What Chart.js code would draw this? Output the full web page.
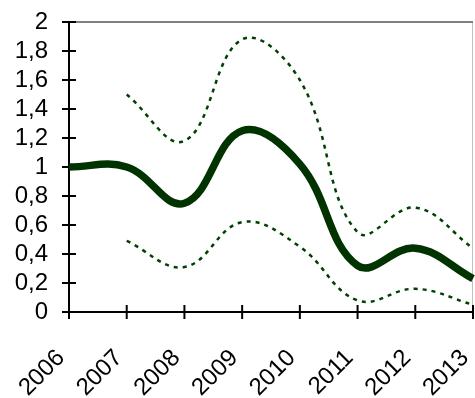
<!DOCTYPE html>
<html>
<head>
<meta charset="utf-8">
<script src="https://cdn.jsdelivr.net/npm/chart.js@4.4.1/dist/chart.umd.min.js"></script>
<style>
    body { margin: 0; background: #fff; }
    #chart { display: block; }
</style>
</head>
<body>
<canvas id="chart" width="475" height="398"></canvas>
<script>
const years = ['2006', '2007', '2008', '2009', '2010', '2011', '2012', '2013'];
const mainValues = [1.0, 1.0, 0.75, 1.25, 1.02, 0.32, 0.44, 0.23];
const upperValues = [null, 1.5, 1.18, 1.88, 1.6, 0.55, 0.72, 0.44];
const lowerValues = [null, 0.49, 0.31, 0.62, 0.45, 0.08, 0.16, 0.05];
const yTicks = [0, 0.2, 0.4, 0.6, 0.8, 1, 1.2, 1.4, 1.6, 1.8, 2];

const yFont = { family: '"Liberation Sans", Arial, sans-serif', size: 24 };
const xFont = { family: '"Liberation Sans", Arial, sans-serif', size: 24 };

// axes with ticks crossing the line, grey frame top and right
const axesPlugin = {
    id: 'axes',
    beforeDatasetsDraw(chart) {
        const ctx = chart.ctx;
        const area = chart.chartArea;
        const xs = chart.scales.x;
        const ys = chart.scales.y;
        ctx.save();
        ctx.strokeStyle = '#c0c0c0';
        ctx.lineWidth = 1;
        ctx.beginPath();
        ctx.moveTo(area.right - 0.5, area.top);
        ctx.lineTo(area.right - 0.5, area.bottom);
        ctx.stroke();
        ctx.strokeStyle = '#808080';
        ctx.lineWidth = 2;
        ctx.beginPath();
        ctx.moveTo(area.left, area.top);
        ctx.lineTo(area.right, area.top);
        ctx.stroke();

        ctx.strokeStyle = '#000';
        ctx.lineWidth = 2;
        ctx.beginPath();
        ctx.moveTo(area.left, area.top);
        ctx.lineTo(area.left, area.bottom);
        ctx.lineTo(area.right, area.bottom);
        yTicks.forEach(v => {
            const y = ys.getPixelForValue(v);
            ctx.moveTo(area.left - 7, y);
            ctx.lineTo(area.left + 7, y);
        });
        years.forEach((label, i) => {
            const x = xs.getPixelForValue(i);
            ctx.moveTo(x, area.bottom - 7);
            ctx.lineTo(x, area.bottom + 7);
        });
        ctx.stroke();
        ctx.restore();
    }
};

new Chart(document.getElementById('chart'), {
    type: 'line',
    data: {
        labels: years,
        datasets: [
            {
                data: upperValues,
                borderColor: '#004000',
                borderWidth: 2.5,
                borderDash: [4, 5],
                pointRadius: 0,
                tension: 0.4,
                fill: false
            },
            {
                data: lowerValues,
                borderColor: '#004000',
                borderWidth: 2.5,
                borderDash: [4, 5],
                pointRadius: 0,
                tension: 0.4,
                fill: false
            },
            {
                data: mainValues,
                borderColor: '#003300',
                borderWidth: 7.5,
                pointRadius: 0,
                tension: 0.4,
                fill: false
            }
        ]
    },
    options: {
        responsive: false,
        animation: false,
        devicePixelRatio: 1,
        layout: { padding: { top: 22, right: 2, left: 0, bottom: 0 } },
        plugins: {
            legend: { display: false },
            tooltip: { enabled: false }
        },
        scales: {
            x: {
                offset: false,
                grid: { display: false, drawTicks: false },
                border: { display: false },
                ticks: {
                    color: '#000',
                    font: xFont,
                    minRotation: 45,
                    maxRotation: 45,
                    padding: 32,
                    labelOffset: -8,
                    autoSkip: false
                },
                afterFit(scale) {
                    scale.height = 86;
                    scale.paddingLeft = 0;
                    scale.paddingRight = 0;
                }
            },
            y: {
                min: 0,
                max: 2,
                grid: { display: false, drawTicks: false },
                border: { display: false },
                ticks: {
                    stepSize: 0.2,
                    autoSkip: false,
                    color: '#000',
                    font: yFont,
                    padding: 21,
                    callback: v => String(Math.round(v * 10) / 10).replace('.', ',')
                },
                afterFit(scale) {
                    scale.width = 69;
                    scale.paddingTop = 0;
                    scale.paddingBottom = 0;
                }
            }
        }
    },
    plugins: [axesPlugin]
});
</script>
</body>
</html>
